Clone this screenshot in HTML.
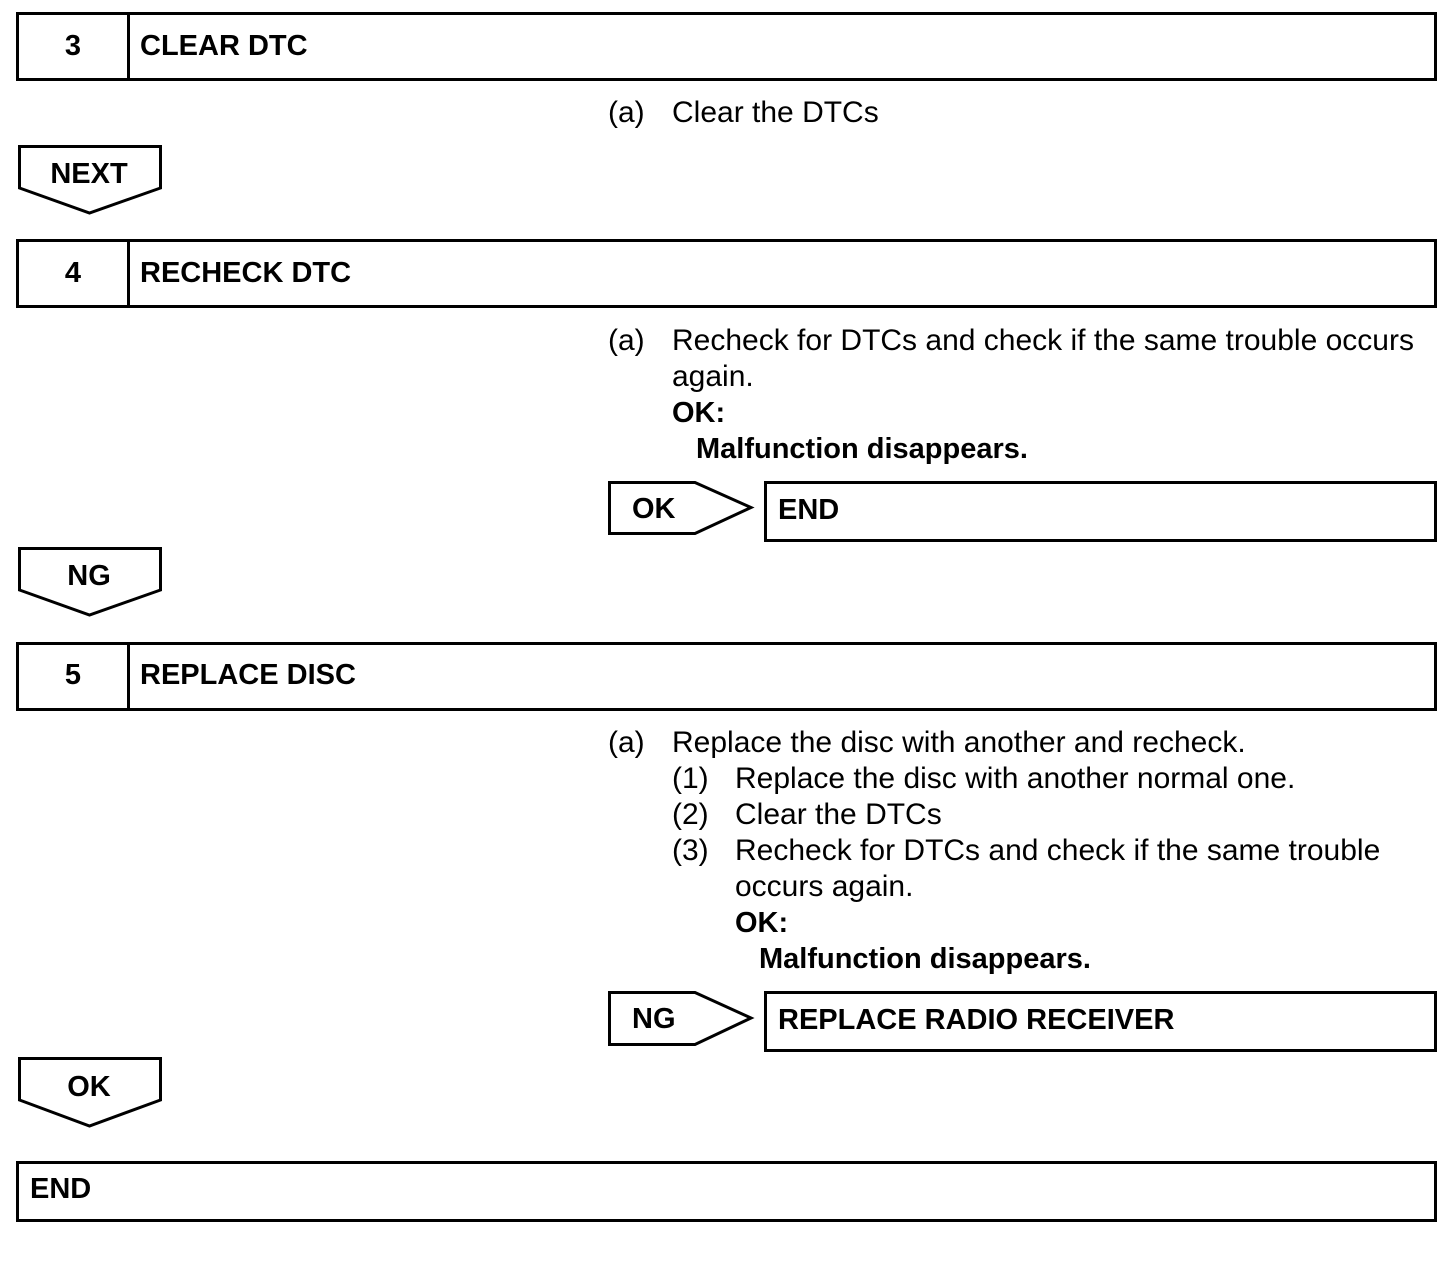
<!DOCTYPE html>
<html><head><meta charset="utf-8"><style>
html,body{margin:0;padding:0;background:#fff;}
svg{display:block;}
text{font-family:"Liberation Sans",Arial,sans-serif;fill:#000;}
.b{font-weight:bold;font-size:29px;}
.n{font-size:30px;}
</style></head><body>
<svg width="1456" height="1274" viewBox="0 0 1456 1274" xmlns="http://www.w3.org/2000/svg">
<g fill="none" stroke="#000" stroke-width="3">
<rect x="17.5" y="13.5" width="1418" height="66"/><line x1="128.5" y1="13" x2="128.5" y2="80"/>
<polygon points="19.5,146.5 160.5,146.5 160.5,188 89.5,213 19.5,188"/>
<rect x="17.5" y="240.5" width="1418" height="66"/><line x1="128.5" y1="240" x2="128.5" y2="307"/>
<polygon points="609.5,482.5 695,482.5 751,507.5 695,533.5 609.5,533.5"/>
<rect x="765.5" y="482.5" width="670" height="58"/>
<polygon points="19.5,548.5 160.5,548.5 160.5,590 89.5,615 19.5,590"/>
<rect x="17.5" y="643.5" width="1418" height="66"/><line x1="128.5" y1="643" x2="128.5" y2="710"/>
<polygon points="609.5,992.5 695,992.5 751,1018 695,1044.5 609.5,1044.5"/>
<rect x="765.5" y="992.5" width="670" height="58"/>
<polygon points="19.5,1058.5 160.5,1058.5 160.5,1100 89.5,1126 19.5,1100"/>
<rect x="17.5" y="1162.5" width="1418" height="58"/>
</g>
<text class="b" x="73" y="55" text-anchor="middle">3</text>
<text class="b" x="140" y="55">CLEAR DTC</text>
<text class="n" x="608" y="122">(a)</text><text class="n" x="672" y="122">Clear the DTCs</text>
<text class="b" x="89" y="183" text-anchor="middle">NEXT</text>
<text class="b" x="73" y="282" text-anchor="middle">4</text>
<text class="b" x="140" y="282">RECHECK DTC</text>
<text class="n" x="608" y="350">(a)</text><text class="n" x="672" y="350">Recheck for DTCs and check if the same trouble occurs</text>
<text class="n" x="672" y="386">again.</text>
<text class="b" x="672" y="422">OK:</text>
<text class="b" x="696" y="458">Malfunction disappears.</text>
<text class="b" x="632" y="518">OK</text>
<text class="b" x="778" y="519">END</text>
<text class="b" x="89" y="585" text-anchor="middle">NG</text>
<text class="b" x="73" y="684" text-anchor="middle">5</text>
<text class="b" x="140" y="684">REPLACE DISC</text>
<text class="n" x="608" y="752">(a)</text><text class="n" x="672" y="752">Replace the disc with another and recheck.</text>
<text class="n" x="672" y="788">(1)</text><text class="n" x="735" y="788">Replace the disc with another normal one.</text>
<text class="n" x="672" y="824">(2)</text><text class="n" x="735" y="824">Clear the DTCs</text>
<text class="n" x="672" y="860">(3)</text><text class="n" x="735" y="860">Recheck for DTCs and check if the same trouble</text>
<text class="n" x="735" y="896">occurs again.</text>
<text class="b" x="735" y="932">OK:</text>
<text class="b" x="759" y="968">Malfunction disappears.</text>
<text class="b" x="632" y="1028">NG</text>
<text class="b" x="778" y="1029">REPLACE RADIO RECEIVER</text>
<text class="b" x="89" y="1096" text-anchor="middle">OK</text>
<text class="b" x="30" y="1198">END</text>
</svg>
</body></html>
